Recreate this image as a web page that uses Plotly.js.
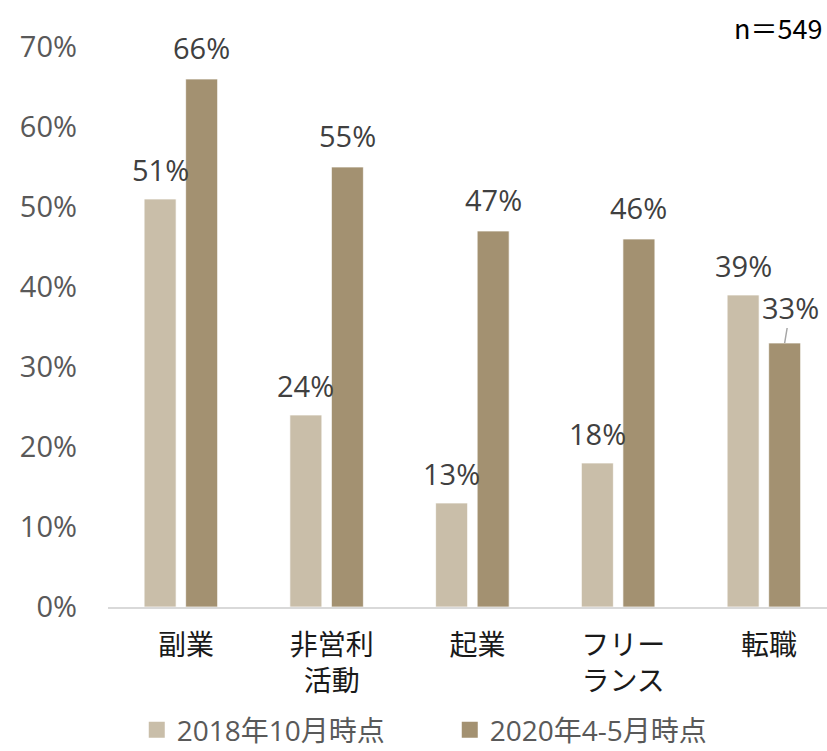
<!DOCTYPE html>
<html>
<head>
<meta charset="utf-8">
<script src="https://cdn.plot.ly/plotly-3.0.1.min.js"></script>
<style>html,body{margin:0;padding:0;background:#fff;}#chart{width:827px;height:751px;}</style>
</head>
<body>
<div id="chart"></div>
<script>
const categories = ['副業', '非営利<br>活動', '起業', 'フリー<br>ランス', '転職'];
const series2018 = [51, 24, 13, 18, 39];
const series2020 = [66, 55, 47, 46, 33];
const seriesNames = ['2018年10月時点', '2020年4-5月時点'];
const yTicks = [0, 10, 20, 30, 40, 50, 60, 70];
const yTickText = yTicks.map(v => v + '%');
const sampleNote = 'n＝549';

const colLight = '#C9BEA9';
const colDark = '#A39171';
const numFont = 'Open Sans, Noto Sans CJK JP, sans-serif';
const cjkFont = 'Noto Sans CJK JP, Open Sans, sans-serif';

const traces = [
  {type: 'bar', x: categories, y: series2018, name: seriesNames[0], showlegend: false,
   marker: {color: colLight, line: {color: 'rgba(255,255,255,0.7)', width: 1}}, hoverinfo: 'none'},
  {type: 'bar', x: categories, y: series2020, name: seriesNames[1], showlegend: false,
   marker: {color: colDark, line: {color: 'rgba(255,255,255,0.7)', width: 1}}, hoverinfo: 'none'},
  {type: 'scatter', mode: 'markers', x: [null], y: [null], name: seriesNames[0],
   marker: {symbol: 'square', size: 17, color: colLight}, hoverinfo: 'none'},
  {type: 'scatter', mode: 'markers', x: [null], y: [null], name: seriesNames[1],
   marker: {symbol: 'square', size: 17, color: colDark}, hoverinfo: 'none'}
];

const shiftPx = 20.75;
const annotations = [];
categories.forEach((c, i) => {
  annotations.push({x: c, y: series2018[i], xref: 'x', yref: 'y', text: series2018[i] + '%',
    showarrow: false, xshift: -shiftPx, yshift: 30, yanchor: 'middle', xanchor: 'center',
    font: {family: numFont, size: 29, color: '#404040'}});
  if (i === 4) {
    annotations.push({x: c, y: series2020[i], xref: 'x', yref: 'y', text: series2020[i] + '%',
      showarrow: true, arrowhead: 0, arrowwidth: 1.5, arrowcolor: '#A6A6A6',
      xshift: shiftPx, ax: 6, ay: -36, standoff: 0,
      font: {family: numFont, size: 29, color: '#404040'}});
  } else {
    annotations.push({x: c, y: series2020[i], xref: 'x', yref: 'y', text: series2020[i] + '%',
      showarrow: false, xshift: shiftPx, yshift: 32, yanchor: 'middle', xanchor: 'center',
      font: {family: numFont, size: 29, color: '#404040'}});
  }
});
annotations.push({xref: 'paper', yref: 'paper', x: 1, y: 1, xanchor: 'right', yanchor: 'middle',
  yshift: 20, xshift: -3, text: sampleNote, showarrow: false,
  font: {family: cjkFont, size: 27, color: '#000000'}});

const layout = {
  width: 827, height: 751,
  margin: {l: 108, r: 0, t: 47, b: 144, pad: 0},
  paper_bgcolor: '#ffffff', plot_bgcolor: '#ffffff',
  barmode: 'group', bargap: 0.43, bargroupgap: 0.23,
  xaxis: {type: 'category', range: [-0.5, 4.433], showgrid: false, zeroline: false,
    showline: true, linecolor: '#D9D9D9', linewidth: 2, ticks: '', fixedrange: true,
    tickfont: {family: cjkFont, size: 28, color: '#1a1a1a'}, ticklabelstandoff: 12, ticklabelshift: 5},
  yaxis: {range: [0, 70], tickvals: yTicks, ticktext: yTickText, showgrid: false, zeroline: false,
    showline: false, ticks: '', fixedrange: true, ticklabelstandoff: 30,
    tickfont: {family: numFont, size: 29, color: '#595959'}},
  legend: {orientation: 'h', x: 0.04, y: 0.028, xref: 'paper', yref: 'container', yanchor: 'middle',
    entrywidth: 268, entrywidthmode: 'pixels', itemsizing: 'trace',
    font: {family: numFont, size: 28, color: '#595959'}, bgcolor: 'rgba(0,0,0,0)'},
  annotations: annotations,
  showlegend: true
};

Plotly.newPlot('chart', traces, layout, {displayModeBar: false, staticPlot: true});
</script>
</body>
</html>
